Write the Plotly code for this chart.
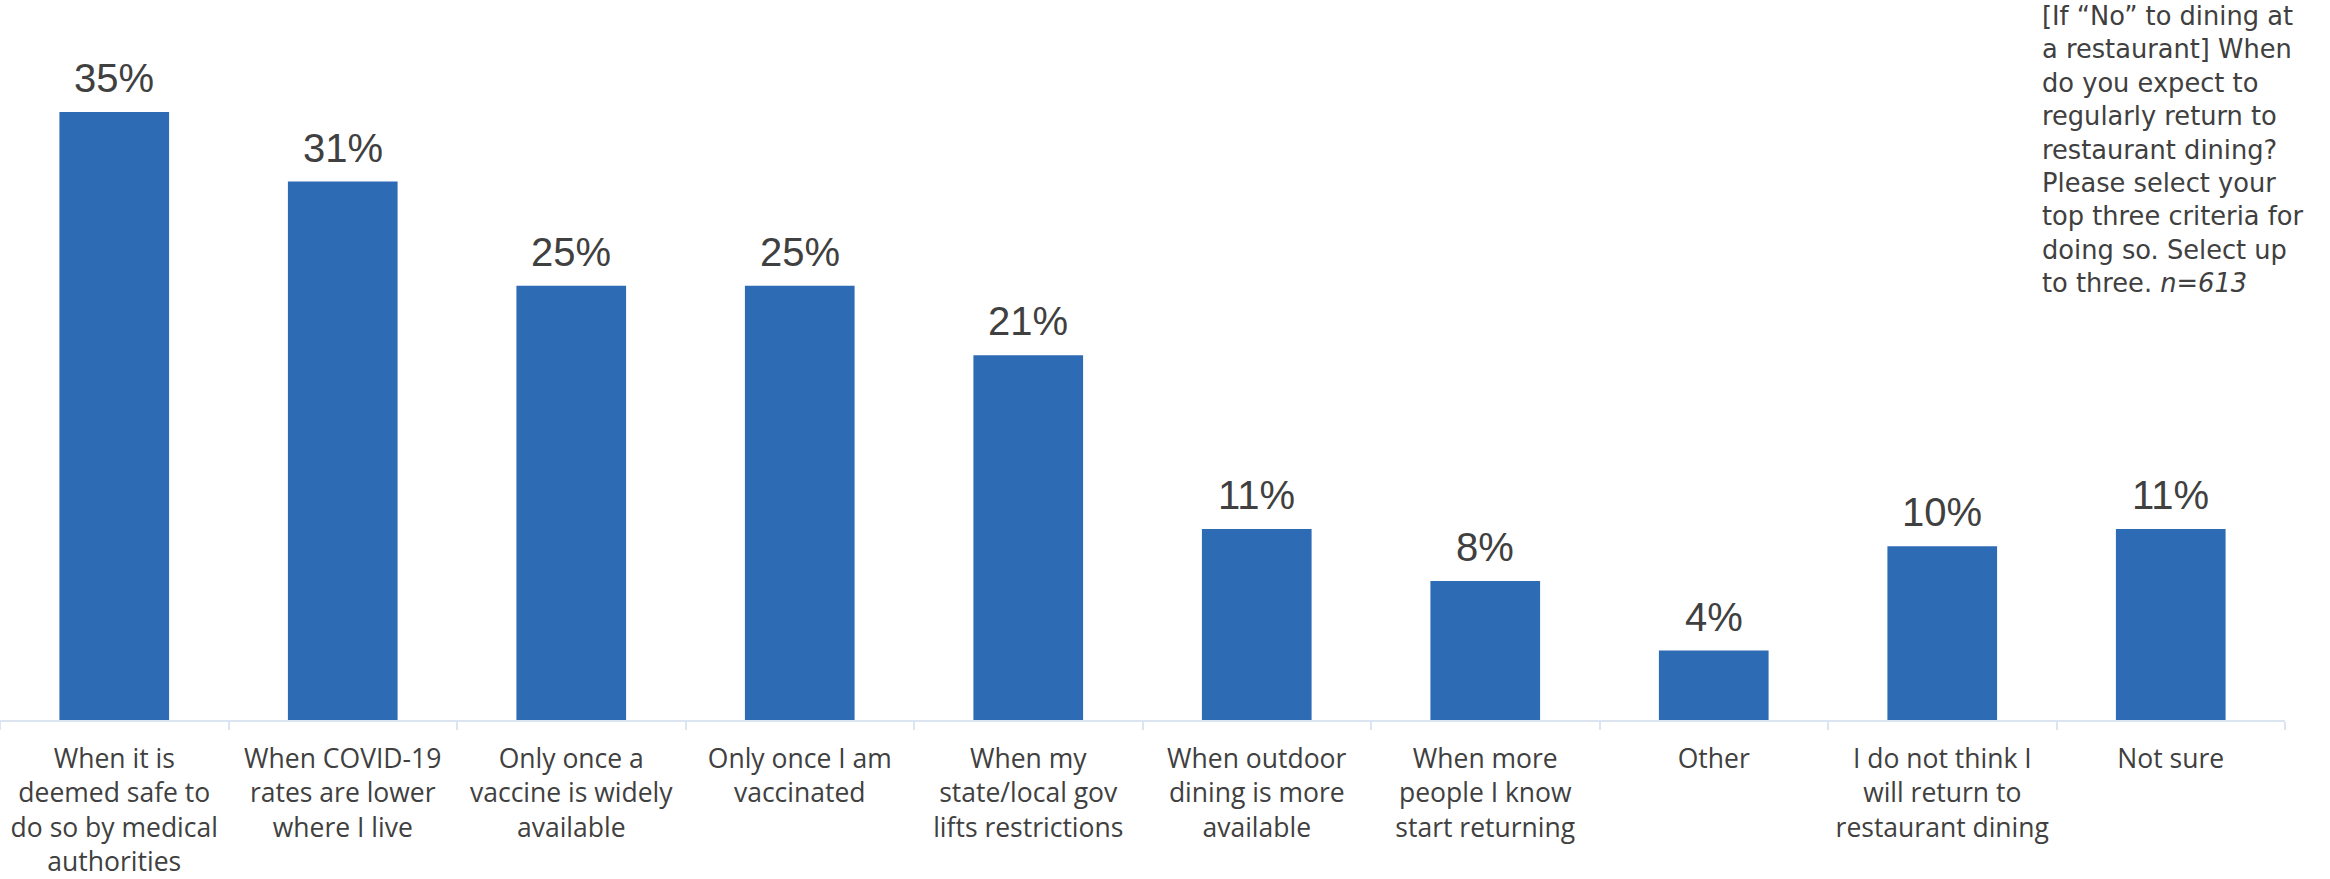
import plotly.graph_objects as go

categories = [
    "When it is deemed safe to do so by medical authorities",
    "When COVID-19 rates are lower where I live",
    "Only once a vaccine is widely available",
    "Only once I am vaccinated",
    "When my state/local gov lifts restrictions",
    "When outdoor dining is more available",
    "When more people I know start returning",
    "Other",
    "I do not think I will return to restaurant dining",
    "Not sure",
]
values = [35, 31, 25, 25, 21, 11, 8, 4, 10, 11]
tick_labels = [
    "When it is<br>deemed safe to<br>do so by medical<br>authorities",
    "When COVID-19<br>rates are lower<br>where I live",
    "Only once a<br>vaccine is widely<br>available",
    "Only once I am<br>vaccinated",
    "When my<br>state/local gov<br>lifts restrictions",
    "When outdoor<br>dining is more<br>available",
    "When more<br>people I know<br>start returning",
    "Other",
    "I do not think I<br>will return to<br>restaurant dining",
    "Not sure",
]
note_lines = [
    "[If “No” to dining at",
    "a restaurant] When",
    "do you expect to",
    "regularly return to",
    "restaurant dining?",
    "Please select your",
    "top three criteria for",
    "doing so. Select up",
    "to three. <i>n=613</i>",
]

BAR = "#2E6BB5"
TXT = "#404040"
AXIS = "#DAE5F1"
W, H = 2330, 879
MT, MB, ML, MR = 0, 154, 0, 45
plot_w = W - ML - MR

fig = go.Figure()
fig.add_trace(go.Bar(x=categories, y=values, marker_color=BAR, marker_line_width=0,
                     hoverinfo="skip"))

annotations = []
for c, v in zip(categories, values):
    annotations.append(dict(x=c, y=v, xref="x", yref="y", text=f"{v}%", showarrow=False,
                            yanchor="bottom", yshift=10,
                            font=dict(family="Liberation Sans, Arial, sans-serif", size=40, color=TXT)))

annotations.append(dict(x=2041 / plot_w, y=1, xref="paper", yref="paper",
                        text="<br>".join(note_lines), showarrow=False,
                        xanchor="left", yanchor="top", align="left", borderpad=0,
                        font=dict(family="DejaVu Sans, sans-serif", size=25.7, color=TXT)))

fig.update_layout(
    width=W, height=H,
    margin=dict(l=ML, r=MR, t=MT, b=MB, pad=0),
    paper_bgcolor="white", plot_bgcolor="white",
    bargap=0.52, showlegend=False,
    annotations=annotations,
    xaxis=dict(tickmode="array", tickvals=categories, ticktext=tick_labels,
               tickfont=dict(family="Open Sans, sans-serif", size=26.5, color=TXT),
               ticklabelstandoff=14,
               showline=True, linecolor=AXIS, linewidth=2,
               ticks="outside", tickson="boundaries", ticklen=8, tickwidth=2, tickcolor=AXIS,
               showgrid=False, zeroline=False, fixedrange=True),
    yaxis=dict(visible=False, range=[0, 41.45], showgrid=False, zeroline=False, fixedrange=True),
)

fig.write_html("out.html")
